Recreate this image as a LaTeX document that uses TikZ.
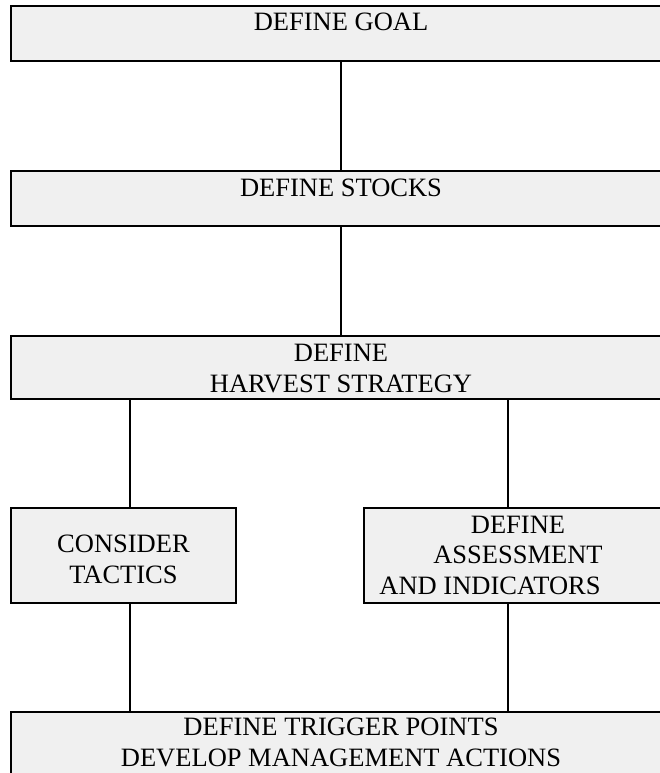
\documentclass[tikz,border=0pt]{standalone}
\usepackage{xcolor}
\usepackage{tikz}
\usetikzlibrary{positioning, calc}
\usepackage{fontspec}
\setmainfont{Liberation Serif}
\definecolor{plangray}{RGB}{240, 240, 240}

\tikzset{
    stepbox/.style={draw=black, line width=1.4pt, fill=plangray, inner sep=0pt,
        align=center, font=\fontsize{26.5}{30.5}\selectfont},
    link/.style={draw=black, line width=1.4pt}
}

\begin{document}
\begin{tikzpicture}[x=1pt, y=-1pt]
        \useasboundingbox (0,0) rectangle (660,773);
        
        % Main chain - goal, stocks, harvest strategy
        \node[stepbox, minimum width=660pt, text height=24.5pt, text depth=30.5pt] (goal) at (341,33.5) {DEFINE GOAL};
        \node[stepbox, minimum width=660pt, text height=25.5pt, text depth=29.5pt] (stocks) at (341,198.5) {DEFINE STOCKS};
        \node[stepbox, minimum width=660pt, text height=56pt, text depth=7pt] (harvest) at (341,367.5) {DEFINE\\HARVEST STRATEGY};
        
        % Two branches
        \node[stepbox, minimum width=225pt, text height=75pt, text depth=20pt] (tactics) at (123.5,555.5) {CONSIDER\\TACTICS};
        \node[stepbox, minimum width=308pt, text height=86pt, text depth=9pt] (assess) at (518,555.5) {DEFINE\\ASSESSMENT\\AND INDICATORS\hspace*{56pt}};
        
        % Bottom panel
        \node[stepbox, minimum width=660pt, text height=54pt, text depth=34pt] (trigger) at (341,756) {DEFINE TRIGGER POINTS\\DEVELOP MANAGEMENT ACTIONS};
        
        % Connectors
        \coordinate (leftcol) at (130,0);
        \coordinate (rightcol) at (508,0);
        \draw[link] (goal) -- (stocks);
        \draw[link] (stocks) -- (harvest);
        \draw[link] (leftcol |- harvest.south) -- (leftcol |- tactics.north);
        \draw[link] (rightcol |- harvest.south) -- (rightcol |- assess.north);
        \draw[link] (leftcol |- tactics.south) -- (leftcol |- trigger.north);
        \draw[link] (rightcol |- assess.south) -- (rightcol |- trigger.north);
    \end{tikzpicture}
\end{document}
